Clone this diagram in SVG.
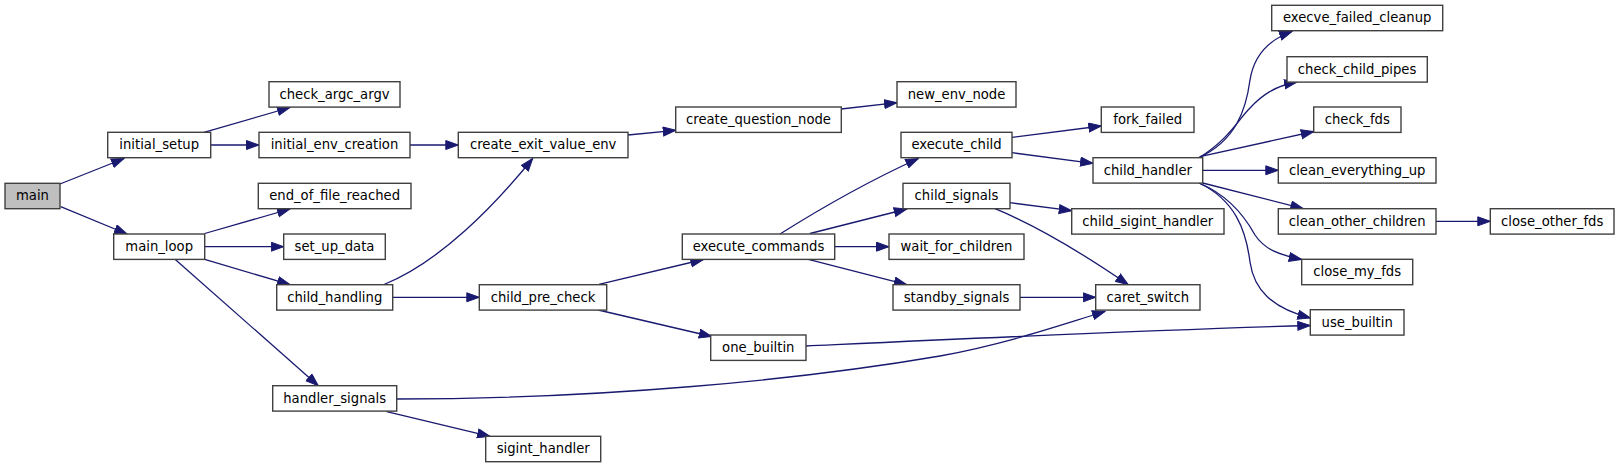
<svg xmlns="http://www.w3.org/2000/svg" width="1620" height="468" viewBox="0 0 1620 468">
<style>
.n rect{fill:#ffffff;stroke:#404040;stroke-width:1.4}
.n text{font-family:"DejaVu Sans",sans-serif;font-size:13.2px;fill:#000;text-anchor:middle}
.e path{fill:none;stroke:#191970;stroke-width:1.3;marker-end:url(#ah)}
</style>
<defs>
<marker id="ah" markerUnits="userSpaceOnUse" markerWidth="14" markerHeight="11" refX="13" refY="5" orient="auto">
<path d="M0.5,0.5 L13,5 L0.5,9.5 z" fill="#191970" stroke="#191970" stroke-width="1"/>
</marker>
</defs>
<rect width="1620" height="468" fill="#ffffff"/>
<g id="edges" class="e">
<path d="M60,184 L124,158.5"/>
<path d="M60.7,206.7 L127,234"/>
<path d="M204,132.3 L290,107.5"/>
<path d="M210.7,145 L259,145"/>
<path d="M410,145 L458.3,145"/>
<path d="M628,135 L675.7,130.3"/>
<path d="M841.3,109 L897,102.7"/>
<path d="M204.7,233.5 L290,209"/>
<path d="M204.7,246.7 L283.7,246.7"/>
<path d="M204.7,259.3 L290,284.7"/>
<path d="M175,259.3 L318.3,385.7"/>
<path d="M384,284.5 C440,262 495,205 532.7,158.5"/>
<path d="M392.7,297.3 L479.3,297.3"/>
<path d="M599,284.3 L703.3,259.5"/>
<path d="M598.3,310 L711.7,336.5"/>
<path d="M806,346 C980,338 1150,330 1310.3,325.5"/>
<path d="M396.7,399 C600,399 800,380 940,356 C1010,343 1060,325 1105,311.5"/>
<path d="M386.7,411.7 L490,436.3"/>
<path d="M780,234 C815,212 860,185 918.3,158.5"/>
<path d="M810,233.5 L906.7,209"/>
<path d="M834.7,246.7 L889,246.7"/>
<path d="M808.3,259.3 L906.7,284.7"/>
<path d="M1020,297.3 L1095.7,297.3"/>
<path d="M995,208.7 C1035,225 1085,255 1128.3,284.7"/>
<path d="M1010,202.7 L1071.7,210.7"/>
<path d="M1012,137.3 L1101.3,126"/>
<path d="M1012,152.7 L1093,163.3"/>
<path d="M1199,157.7 C1236,140 1246,110 1250,80 C1254,55 1268,40 1292,31.5"/>
<path d="M1199,157.7 C1228,140 1238,120 1250,108 C1262,95 1275,86 1297,82"/>
<path d="M1200,156.7 L1313.7,131.5"/>
<path d="M1202.7,170.3 L1278.3,170.3"/>
<path d="M1202.7,183 L1303.3,208.7"/>
<path d="M1199,183 C1228,195 1244,215 1255,235 C1265,250 1280,255 1301.7,259.5"/>
<path d="M1199,183 C1235,200 1246,230 1250,262 C1254,290 1272,308 1310.3,318"/>
<path d="M1436,221.3 L1490.3,221.3"/>
</g>
<g id="main" class="n"><rect x="5" y="183.3" width="55" height="25.4" style="fill:#bfbfbf"/><text x="32.5" y="200.3">main</text></g>
<g id="initial_setup" class="n"><rect x="107.7" y="132.3" width="103" height="25.4"/><text x="159.2" y="149.3">initial_setup</text></g>
<g id="check_argc_argv" class="n"><rect x="269" y="81.7" width="131" height="25.4"/><text x="334.5" y="98.7">check_argc_argv</text></g>
<g id="initial_env_creation" class="n"><rect x="259" y="132.3" width="151" height="25.4"/><text x="334.5" y="149.3">initial_env_creation</text></g>
<g id="end_of_file_reached" class="n"><rect x="258.3" y="183.3" width="152.7" height="25.4"/><text x="334.6" y="200.3">end_of_file_reached</text></g>
<g id="main_loop" class="n"><rect x="113.7" y="234" width="91" height="25.4"/><text x="159.2" y="251">main_loop</text></g>
<g id="set_up_data" class="n"><rect x="283.7" y="234" width="101.6" height="25.4"/><text x="334.5" y="251">set_up_data</text></g>
<g id="child_handling" class="n"><rect x="276.7" y="284.7" width="116" height="25.4"/><text x="334.7" y="301.7">child_handling</text></g>
<g id="handler_signals" class="n"><rect x="272.7" y="385.7" width="124" height="25.4"/><text x="334.7" y="402.7">handler_signals</text></g>
<g id="create_exit_value_env" class="n"><rect x="458.3" y="132.3" width="169.7" height="25.4"/><text x="543.2" y="149.3">create_exit_value_env</text></g>
<g id="create_question_node" class="n"><rect x="675.7" y="107" width="165.6" height="25.4"/><text x="758.5" y="124">create_question_node</text></g>
<g id="execute_commands" class="n"><rect x="682.3" y="234" width="152.4" height="25.4"/><text x="758.5" y="251">execute_commands</text></g>
<g id="child_pre_check" class="n"><rect x="479.3" y="284.7" width="127.4" height="25.4"/><text x="543" y="301.7">child_pre_check</text></g>
<g id="one_builtin" class="n"><rect x="710.7" y="335" width="95.3" height="25.4"/><text x="758.3" y="352">one_builtin</text></g>
<g id="sigint_handler" class="n"><rect x="485.7" y="436.3" width="115" height="25.4"/><text x="543.2" y="453.3">sigint_handler</text></g>
<g id="new_env_node" class="n"><rect x="897" y="81.7" width="119" height="25.4"/><text x="956.5" y="98.7">new_env_node</text></g>
<g id="execute_child" class="n"><rect x="901" y="132.3" width="111" height="25.4"/><text x="956.5" y="149.3">execute_child</text></g>
<g id="fork_failed" class="n"><rect x="1101.3" y="107" width="92.7" height="25.4"/><text x="1147.7" y="124">fork_failed</text></g>
<g id="child_handler" class="n"><rect x="1093" y="157.7" width="109.7" height="25.4"/><text x="1147.8" y="174.7">child_handler</text></g>
<g id="child_signals" class="n"><rect x="903" y="183.3" width="107" height="25.4"/><text x="956.5" y="200.3">child_signals</text></g>
<g id="child_sigint_handler" class="n"><rect x="1071.7" y="208.7" width="152.3" height="25.4"/><text x="1147.8" y="225.7">child_sigint_handler</text></g>
<g id="wait_for_children" class="n"><rect x="889" y="234" width="135" height="25.4"/><text x="956.5" y="251">wait_for_children</text></g>
<g id="standby_signals" class="n"><rect x="893" y="284.7" width="127" height="25.4"/><text x="956.5" y="301.7">standby_signals</text></g>
<g id="caret_switch" class="n"><rect x="1095.7" y="284.7" width="104.3" height="25.4"/><text x="1147.8" y="301.7">caret_switch</text></g>
<g id="execve_failed_cleanup" class="n"><rect x="1271.7" y="5.3" width="171" height="25.4"/><text x="1357.2" y="22.3">execve_failed_cleanup</text></g>
<g id="check_child_pipes" class="n"><rect x="1287" y="56.7" width="140.3" height="25.4"/><text x="1357.1" y="73.7">check_child_pipes</text></g>
<g id="check_fds" class="n"><rect x="1313.7" y="107" width="87.3" height="25.4"/><text x="1357.3" y="124">check_fds</text></g>
<g id="clean_everything_up" class="n"><rect x="1278.3" y="157.7" width="157.7" height="25.4"/><text x="1357.2" y="174.7">clean_everything_up</text></g>
<g id="clean_other_children" class="n"><rect x="1278.3" y="208.7" width="157.7" height="25.4"/><text x="1357.2" y="225.7">clean_other_children</text></g>
<g id="close_other_fds" class="n"><rect x="1490.3" y="208.7" width="123.7" height="25.4"/><text x="1552.2" y="225.7">close_other_fds</text></g>
<g id="close_my_fds" class="n"><rect x="1301.7" y="259.3" width="111" height="25.4"/><text x="1357.2" y="276.3">close_my_fds</text></g>
<g id="use_builtin" class="n"><rect x="1310.3" y="309.7" width="93.7" height="25.4"/><text x="1357.2" y="326.7">use_builtin</text></g>
</svg>
